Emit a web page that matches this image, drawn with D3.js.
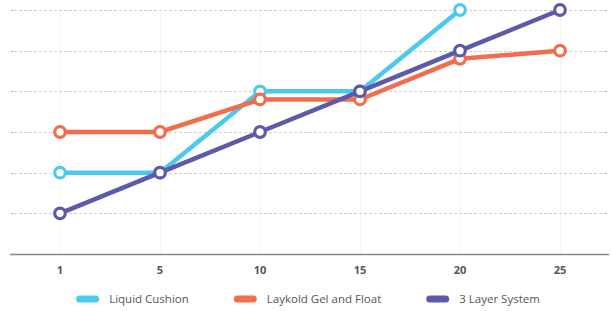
<!DOCTYPE html>
<html>
<head>
<meta charset="utf-8">
<script src="https://cdn.jsdelivr.net/npm/d3@7"></script>
<style>
    body { margin: 0; background: #fff; }
    svg { display: block; font-family: "Open Sans", sans-serif; }
    .tick-label { font-size: 11px; font-weight: bold; fill: #555; }
    .legend-label { font-size: 11.5px; fill: #555; }
</style>
</head>
<body>
<script>
//categories along the x axis
var days = ["1", "5", "10", "15", "20", "25"];

//series values (null = no point)
var liquidCushion = [2, 2, 4, 4, 6, null];
var laykoldGel = [3, 3, 3.8, 3.8, 4.8, 5];
var threeLayer = [1, 2, 3, 4, 5, 6];

var seriesNames = ["Liquid Cushion", "Laykold Gel and Float", "3 Layer System"];
var seriesColors = ["#4cc9ee", "#f36c4b", "#5d5ba9"];

//y grid levels
var yTicks = [1, 2, 3, 4, 5, 6];

window.onload = function(){
    var width = 611, height = 311;

    var svg = d3.select("body")
        .append("svg")
        .attr("width", width)
        .attr("height", height);

    //scales
    var x = d3.scalePoint()
        .domain(days)
        .range([10, 610])
        .padding(0.5);

    var y = d3.scaleLinear()
        .domain([0, 6])
        .range([254, 10]);

    //faint vertical grid lines
    svg.selectAll(".vgrid")
        .data(days)
        .enter()
        .append("line")
        .attr("class", "vgrid")
        .attr("x1", function(d){ return Math.round(x(d)) + 0.5; })
        .attr("x2", function(d){ return Math.round(x(d)) + 0.5; })
        .attr("y1", 10)
        .attr("y2", 254)
        .style("stroke", "#f4f4f4")
        .style("stroke-width", 1);

    //dashed horizontal grid lines
    svg.selectAll(".hgrid")
        .data(yTicks)
        .enter()
        .append("line")
        .attr("class", "hgrid")
        .attr("x1", 14)
        .attr("x2", 605)
        .attr("y1", function(d){ return Math.round(y(d)) + 0.5; })
        .attr("y2", function(d){ return Math.round(y(d)) + 0.5; })
        .style("stroke", "#cfcfcf")
        .style("stroke-dasharray", "3,2");

    //small end ticks on the grid lines
    [11, 605].forEach(function(x0){
        svg.selectAll(null)
            .data(yTicks)
            .enter()
            .append("line")
            .attr("x1", x0)
            .attr("x2", x0 + 2)
            .attr("y1", function(d){ return Math.round(y(d)) + 0.5; })
            .attr("y2", function(d){ return Math.round(y(d)) + 0.5; })
            .style("stroke", "#aaa");
    });

    //x axis base line
    svg.append("line")
        .attr("x1", 10)
        .attr("x2", 609)
        .attr("y1", 254.5)
        .attr("y2", 254.5)
        .style("stroke", "#888")
        .style("stroke-width", 1.5);

    //x tick labels
    svg.selectAll(".tick-label")
        .data(days)
        .enter()
        .append("text")
        .attr("class", "tick-label")
        .attr("text-anchor", "middle")
        .attr("x", function(d){ return x(d); })
        .attr("y", 274)
        .text(function(d){ return d; });

    //series
    var allSeries = [liquidCushion, laykoldGel, threeLayer].map(function(vals, i){
        return {
            name: seriesNames[i],
            color: seriesColors[i],
            points: vals.map(function(v, j){ return { day: days[j], value: v }; })
                .filter(function(p){ return p.value !== null; })
        };
    });

    var line = d3.line()
        .x(function(d){ return x(d.day); })
        .y(function(d){ return y(d.value); });

    var groups = svg.selectAll(".series")
        .data(allSeries)
        .enter()
        .append("g")
        .attr("class", "series");

    groups.append("path")
        .attr("d", function(d){ return line(d.points); })
        .style("fill", "none")
        .style("stroke", function(d){ return d.color; })
        .style("stroke-width", 4.5)
        .style("stroke-linejoin", "round");

    groups.selectAll("circle")
        .data(function(d){
            return d.points.map(function(p){ return { day: p.day, value: p.value, color: d.color }; });
        })
        .enter()
        .append("circle")
        .attr("cx", function(d){ return x(d.day); })
        .attr("cy", function(d){ return y(d.value); })
        .attr("r", 5.3)
        .style("fill", "#fff")
        .style("stroke", function(d){ return d.color; })
        .style("stroke-width", 3.2);

    //legend
    var legend = svg.append("g").attr("class", "legend");
    var cursor = 0;
    seriesNames.forEach(function(name, i){
        var item = legend.append("g").attr("transform", "translate(" + cursor + ",0)");
        item.append("rect")
            .attr("x", 0)
            .attr("y", -3.5)
            .attr("width", 23)
            .attr("height", 7)
            .attr("rx", 3.5)
            .style("fill", seriesColors[i]);
        var label = item.append("text")
            .attr("class", "legend-label")
            .attr("x", 33)
            .attr("y", 4)
            .text(name);
        cursor += 33 + label.node().getComputedTextLength() + 45;
    });
    var legendWidth = cursor - 45;
    legend.attr("transform", "translate(" + (308 - legendWidth / 2) + ",299)");
};
</script>
</body>
</html>
